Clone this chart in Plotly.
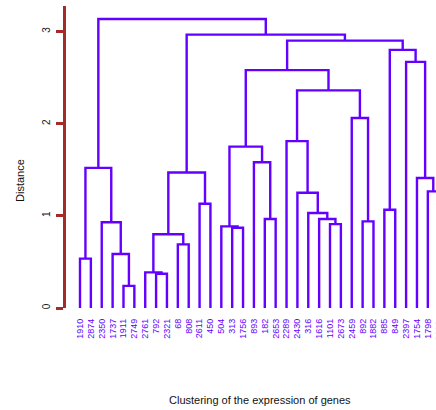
import plotly.graph_objects as go

leaf_labels = ["1910", "2874", "2350", "1737", "1911", "2749", "2761", "792", "2321", "68",
               "808", "2611", "450", "504", "313", "1756", "893", "182", "2653", "2289",
               "2430", "316", "1616", "1101", "2673", "2459", "892", "1882", "885", "849",
               "2397", "1754", "1798", "2022"]

# hclust-style merges: negative = leaf (1-based), positive = earlier merge (1-based)
merge_left = [-5, -8, -7, -1, -4, -10, 3, -15, -14, -24, -3, -27, -18, -23, -22, -29, -12,
              -21, -33, -32, 7, 4, -17, 9, -20, -26, 25, 24, -31, 16, 28, 21, 22]
merge_right = [-6, -9, 2, -2, 1, -11, 6, -16, 8, -25, 5, -28, -19, 10, 14, -30, -13,
               15, -34, 19, 17, 11, 13, 23, 18, 12, 26, 27, 20, 29, 30, 31, 32]
merge_height = [0.24, 0.372, 0.386, 0.535, 0.585, 0.69, 0.80, 0.87, 0.885, 0.91, 0.93,
                0.94, 0.965, 0.965, 1.03, 1.066, 1.13, 1.25, 1.265, 1.41, 1.47, 1.52,
                1.58, 1.75, 1.81, 2.06, 2.36, 2.58, 2.67, 2.80, 2.90, 2.965, 3.134]
y_ticks = [0, 1, 2, 3]

LINE = "#6400ff"
AXIS = "#a52a2a"
FONT = "Liberation Sans, Arial, sans-serif"
NARROW = "Liberation Sans Narrow, Arial Narrow, Liberation Sans, sans-serif"

W, H = 436, 410
ML, MT, MB = 66, 6, 102
plot_w = W - ML
plot_h = H - MT - MB
px_per_leaf = 10.87
px_per_unit = 92.2
first_leaf_px = 80

n = len(leaf_labels)
leaf_x = list(range(1, n + 1))

node_x, node_h = [], []


def pos(ref):
    if ref < 0:
        return leaf_x[-ref - 1], 0.0
    return node_x[ref - 1], node_h[ref - 1]


xs, ys = [], []
for l, r, h in zip(merge_left, merge_right, merge_height):
    xl, hl = pos(l)
    xr, hr = pos(r)
    xs += [xl, xl, xr, xr, None]
    ys += [hl, h, h, hr, None]
    node_x.append((xl + xr) / 2)
    node_h.append(h)

x_lo = 1 - (first_leaf_px - ML) / px_per_leaf
x_hi = x_lo + plot_w / px_per_leaf
y_hi = plot_h / px_per_unit

fig = go.Figure()
fig.add_trace(go.Scatter(x=xs, y=ys, mode="lines",
                         line=dict(color=LINE, width=2.4), hoverinfo="skip",
                         showlegend=False))

fig.update_xaxes(range=[x_lo, x_hi], tickmode="array", tickvals=leaf_x, ticktext=leaf_labels,
                 tickangle=-90, tickfont=dict(family=NARROW, size=9, color=LINE),
                 showgrid=False, zeroline=False, showline=False, ticks="",
                 ticklabelstandoff=8, automargin=False)
fig.update_yaxes(range=[0, y_hi], tickmode="array", tickvals=y_ticks,
                 tickangle=-90, tickfont=dict(family=FONT, size=10, color="#222"),
                 showgrid=False, zeroline=False, showline=True, linecolor=AXIS, linewidth=2.5,
                 ticks="outside", ticklen=7, tickwidth=2.5, tickcolor=AXIS,
                 ticklabelstandoff=2, automargin=False)

# partially visible last leaf label (beyond right edge)
last_paper_x = (leaf_x[-1] - x_lo) / (x_hi - x_lo)
fig.add_annotation(x=last_paper_x, y=-11 / plot_h, xref="paper", yref="paper",
                   text=leaf_labels[-1], textangle=-90, showarrow=False,
                   xanchor="center", yanchor="top",
                   font=dict(family=NARROW, size=9, color=LINE))

fig.add_annotation(x=(20 - ML) / plot_w, y=(MT + plot_h - 181) / plot_h,
                   xref="paper", yref="paper", text="Distance", textangle=-90,
                   showarrow=False, xanchor="center", yanchor="middle",
                   font=dict(family=FONT, size=11, color="#111"))
fig.add_annotation(x=(259.5 - ML) / plot_w, y=(MT + plot_h - 400) / plot_h,
                   xref="paper", yref="paper", text="Clustering of the expression of genes",
                   showarrow=False, xanchor="center", yanchor="middle",
                   font=dict(family=FONT, size=11, color="#111"))

fig.update_layout(width=W, height=H, margin=dict(l=ML, r=0, t=MT, b=MB, pad=0),
                  plot_bgcolor="white", paper_bgcolor="white", showlegend=False)

fig.write_html("out.html")
